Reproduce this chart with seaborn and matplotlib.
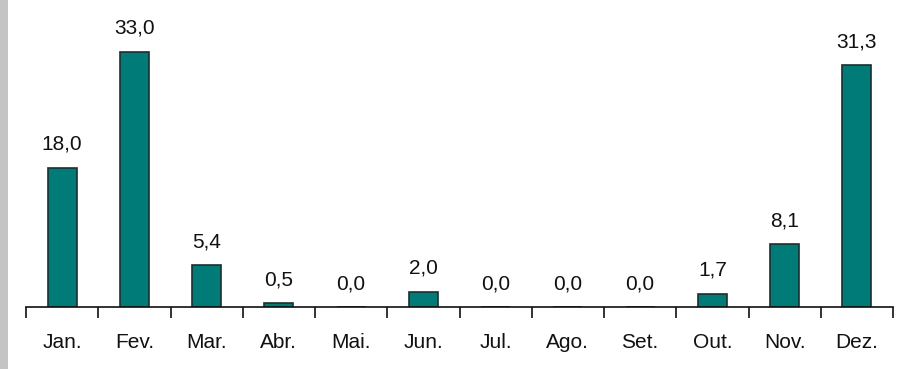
import matplotlib
matplotlib.use("Agg")
import matplotlib.pyplot as plt
import seaborn as sns
import pandas as pd
from matplotlib.patches import Rectangle

# Monthly rainfall totals (mm)
months = ["Jan.", "Fev.", "Mar.", "Abr.", "Mai.", "Jun.",
          "Jul.", "Ago.", "Set.", "Out.", "Nov.", "Dez."]
rainfall = [18.0, 33.0, 5.4, 0.5, 0.0, 2.0, 0.0, 0.0, 0.0, 1.7, 8.1, 31.3]

df = pd.DataFrame({"mes": months, "chuva": rainfall})

sns.set_theme(style="white")
plt.rcParams["font.family"] = ["Liberation Sans", "DejaVu Sans"]

fig = plt.figure(figsize=(9.10, 3.69), dpi=100)
fig.patch.set_facecolor("white")

# light grey frame strip on the left edge
fig.add_artist(Rectangle((0, 0), 8 / 910, 1, transform=fig.transFigure,
                         facecolor="#c4c4c4", edgecolor="none"))

ax = fig.add_axes([26 / 910, 62 / 369, 867 / 910, 307 / 369])
sns.barplot(data=df, x="mes", y="chuva", order=months, color="#007b78",
            saturation=1, width=0.4, edgecolor="#1a3030", linewidth=1.2, ax=ax)

ax.set_xlim(-0.5, len(months) - 0.5)
ax.set_ylim(0, 39.7)
ax.set_xlabel("")
ax.set_ylabel("")
ax.set_yticks([])
for side in ("top", "right", "left"):
    ax.spines[side].set_visible(False)
ax.spines["bottom"].set_color("#111111")
ax.spines["bottom"].set_linewidth(1.2)

# category separators as tick marks, labels centred between them
ax.set_xticks([i - 0.5 for i in range(len(months) + 1)], minor=True)
ax.tick_params(axis="x", which="minor", bottom=True, length=8, width=1.2,
               color="#111111", direction="out")
ax.tick_params(axis="x", which="major", bottom=False, length=0, pad=19,
               labelsize=15, labelcolor="#111111")

labels = [f"{v:.1f}".replace(".", ",") for v in rainfall]
ax.bar_label(ax.containers[0], labels=labels, padding=10, fontsize=15,
             color="#111111")

fig.savefig("out.png", dpi=100, facecolor="white")
